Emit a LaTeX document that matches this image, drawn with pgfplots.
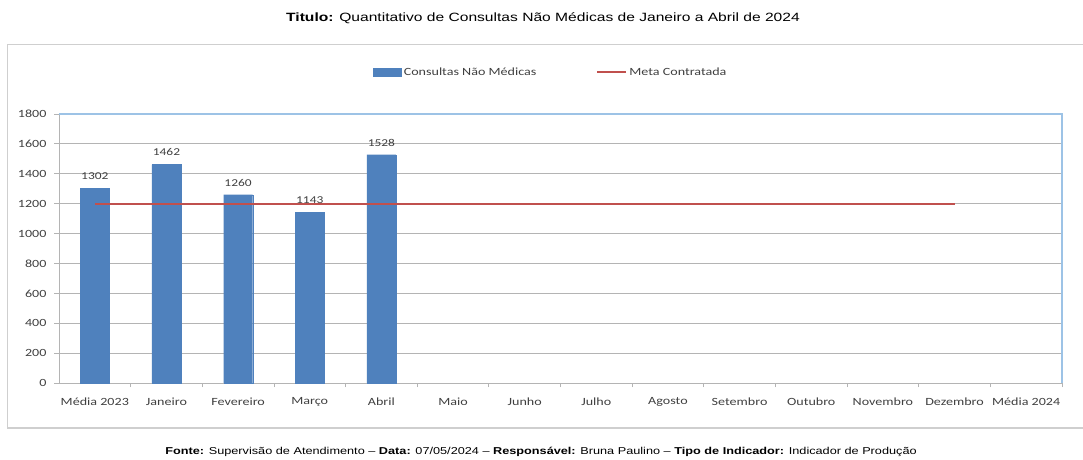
\documentclass[border=0pt]{standalone}
\usepackage{pgfplots}
\pgfplotsset{compat=1.18}
\usepackage{fontspec}
\setmainfont{Carlito}
\newfontfamily\chartfont[FakeStretch=1.28]{Carlito}
\newfontfamily\arialfont[FakeStretch=1.3]{Liberation Sans}
\newfontfamily\arialfootfont[FakeStretch=1.27]{Liberation Sans}
\definecolor{barblue}{HTML}{4F81BD}
\definecolor{metared}{HTML}{C0504D}
\definecolor{gridgray}{HTML}{B4B4B4}
\definecolor{framegray}{HTML}{CFCFCF}
\definecolor{borderblue}{HTML}{9DC3E6}
\definecolor{labelgray}{HTML}{404040}
\pgfplotsset{
  metastyle/.style={color=metared, line width=1.8pt, no markers},
}
\begin{document}
\begin{tikzpicture}[x=1pt,y=1pt]
\useasboundingbox (0,0) rectangle (1083,459);
\fill[white] (0,0) rectangle (1083,459);
\draw[framegray, line width=1.3pt] (7.5,414.5) rectangle (1095,31);
\node[font=\arialfont\fontsize{12}{14}\selectfont, text=black] at (543,441) {\textbf{Titulo:} Quantitativo de Consultas Não Médicas de Janeiro a Abril de 2024};
\node[font=\arialfootfont\fontsize{10}{12}\selectfont, text=black] at (541,7) {\textbf{Fonte:} Supervisão de Atendimento – \textbf{Data:} 07/05/2024 – \textbf{Responsável:} Bruna Paulino – \textbf{Tipo de Indicador:} Indicador de Produção};
\begin{axis}[
  at={(59pt,76pt)}, anchor=south west, scale only axis,
  width=1003pt, height=269pt,
  xmin=-0.5, xmax=13.5, ymin=0, ymax=1800,
  ytick={0,200,...,1800},
  xtick={0,...,13},
  xticklabels={Média 2023,Janeiro,Fevereiro,Março,Abril,Maio,Junho,Julho,Agosto,Setembro,Outubro,Novembro,Dezembro,Média 2024},
  /pgf/number format/assume math mode=true,
  /pgf/number format/1000 sep={},
  axis x line*=bottom, axis y line*=left,
  axis line style={gridgray, line width=0.8pt},
  tick align=outside,
  xtick style={draw=none},
  ytick style={gridgray, line width=0.8pt},
  major tick length=5pt,
  extra x ticks={0.5,1.5,...,13.5},
  extra x tick labels={},
  extra x tick style={xtick style={draw=gridgray, line width=0.8pt}, major tick length=4pt},
  ymajorgrids, grid style={gridgray, line width=0.8pt},
  ticklabel style={font=\chartfont\fontsize{11}{13}\selectfont, text=labelgray},
  yticklabel style={xshift=-4pt},
  xticklabel style={yshift=-6pt},
  legend columns=2,
  legend style={draw=none, fill=none, at={(0.49,1.156)}, anchor=center,
    font=\chartfont\fontsize{11}{13}\selectfont, text=labelgray,
    /tikz/every even column/.append style={column sep=58pt},
    /tikz/every odd column/.append style={column sep=1pt}},
  after end axis/.code={\draw[borderblue, line width=1.2pt] (rel axis cs:0,1) -- (rel axis cs:1,1) -- (rel axis cs:1,0);},
  clip=false,
]
\addplot[ybar, bar width=29pt, fill=barblue, draw=barblue, line width=0.1pt, area legend,
  legend image post style={draw=barblue, fill=barblue, line width=0.1pt, xscale=1.65, yscale=1.4}]
  coordinates {(0,1302) (1,1462) (2,1260) (3,1143) (4,1528)};
\addlegendentry{Consultas Não Médicas}
\addplot[metastyle, legend image post style={xscale=1.65}]
  coordinates {(0,1200) (1,1200) (2,1200) (3,1200) (4,1200) (5,1200) (6,1200) (7,1200) (8,1200) (9,1200) (10,1200) (11,1200) (12,1200)};
\addlegendentry{Meta Contratada}
\addplot[only marks, mark=none, nodes near coords, point meta=explicit symbolic,
  every node near coord/.append style={font=\chartfont\fontsize{10.5}{12}\selectfont, text=labelgray, anchor=south, yshift=5pt}, forget plot]
  coordinates {(0,1302)[1302] (1,1462)[1462] (2,1260)[1260] (3,1143)[1143] (4,1528)[1528]};
\end{axis}
\end{tikzpicture}
\end{document}
